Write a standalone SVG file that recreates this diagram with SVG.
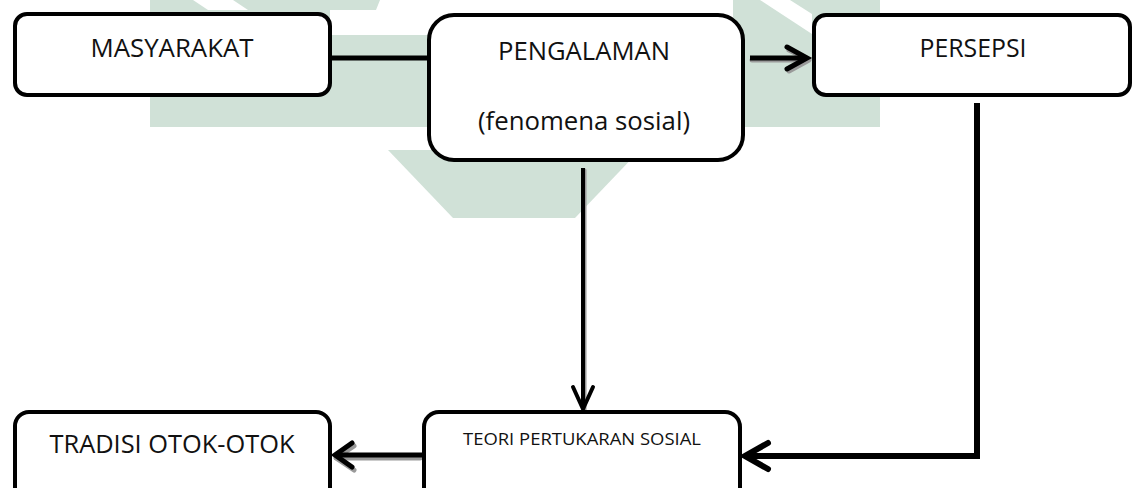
<svg xmlns="http://www.w3.org/2000/svg" width="1135" height="488" viewBox="0 0 1135 488">
<style>
.wm{fill:#d0e1d7;stroke:none}
.box{fill:#ffffff;stroke:#000000;stroke-width:4}
.lbl{font-family:"Open Sans","Liberation Sans",sans-serif;fill:#111111;text-anchor:middle}
.ln{fill:none;stroke:#000000;stroke-linecap:butt;stroke-linejoin:miter}
.sh{fill:none;stroke:#9a9a9a;stroke-linecap:round;stroke-linejoin:round}
.hd{fill:none;stroke:#000000;stroke-linecap:round;stroke-linejoin:miter}
</style>
<rect width="1135" height="488" fill="#ffffff"/>
<g id="watermark">
<polygon class="wm" points="150,0 193,0 208,10 150,10"/>
<polygon class="wm" points="233,0 380,0 376,10 248,10"/>
<rect class="wm" x="150" y="10" width="180" height="117"/>
<rect class="wm" x="150" y="35" width="730" height="92"/>
<polygon class="wm" points="733,0 760,0 812,34 812,60 733,60"/>
<polygon class="wm" points="790,0 880,0 880,60 812,60 812,14"/>
<polygon class="wm" points="388,150 640,150 575,218 453,218"/>
</g>
<g id="connectors">
<line class="ln" x1="332" y1="58" x2="427" y2="58" stroke-width="5"/>
<line class="sh" x1="752" y1="60" x2="806" y2="60" stroke-width="5"/>
<polyline class="sh" points="789,50 809,60 789,71" stroke-width="5"/>
<line class="ln" x1="750" y1="58" x2="805" y2="58" stroke-width="5"/>
<polyline class="hd" points="787,47 807,58 787,69" stroke-width="5"/>
<line class="sh" x1="585" y1="170" x2="585" y2="411" stroke-width="3"/>
<line class="ln" x1="583" y1="168" x2="583" y2="408" stroke-width="4"/>
<polyline class="hd" points="573,387 583,409 593,387" stroke-width="4"/>
<polyline class="ln" points="977,103 977,456 746,456" stroke-width="6"/>
<polyline class="hd" points="768,443 745,456 768,469" stroke-width="6"/>
<line class="sh" x1="420" y1="458" x2="337" y2="458" stroke-width="5"/>
<polyline class="sh" points="354,446 336,458 354,470" stroke-width="5"/>
<line class="ln" x1="422" y1="455" x2="337" y2="455" stroke-width="5"/>
<polyline class="hd" points="352,443 335,455 352,467" stroke-width="5"/>
</g>
<g id="masyarakat">
<rect class="box" x="15" y="14" width="315" height="81" rx="12"/>
<text class="lbl" x="172" y="57" font-size="25" textLength="163" lengthAdjust="spacingAndGlyphs">MASYARAKAT</text>
</g>
<g id="pengalaman">
<rect class="box" x="429" y="15" width="314" height="145" rx="25"/>
<text class="lbl" x="584" y="60" font-size="25" textLength="172" lengthAdjust="spacingAndGlyphs">PENGALAMAN</text>
<text class="lbl" x="584" y="130" font-size="25" textLength="212" lengthAdjust="spacingAndGlyphs">(fenomena sosial)</text>
</g>
<g id="persepsi">
<rect class="box" x="814" y="15" width="316" height="80" rx="12"/>
<text class="lbl" x="973" y="57" font-size="25" textLength="107" lengthAdjust="spacingAndGlyphs">PERSEPSI</text>
</g>
<g id="teori">
<rect class="box" x="424" y="412" width="316" height="90" rx="15"/>
<text class="lbl" x="582" y="445" font-size="17" textLength="238" lengthAdjust="spacingAndGlyphs">TEORI PERTUKARAN SOSIAL</text>
</g>
<g id="tradisi">
<rect class="box" x="15" y="412" width="315" height="90" rx="14"/>
<text class="lbl" x="172" y="453" font-size="25" textLength="245" lengthAdjust="spacingAndGlyphs">TRADISI OTOK-OTOK</text>
</g>
</svg>
